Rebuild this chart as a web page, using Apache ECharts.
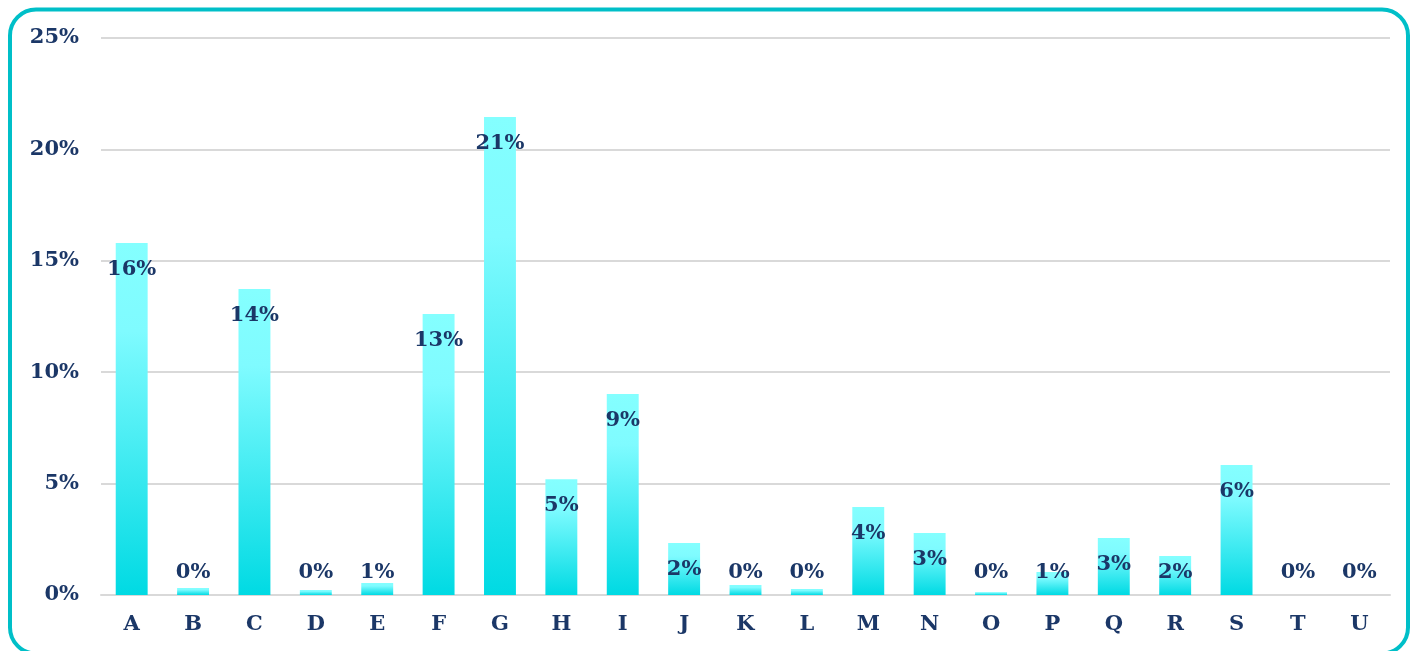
<!DOCTYPE html>
<html>
<head>
<meta charset="utf-8">
<script src="https://cdn.jsdelivr.net/npm/echarts@6/dist/echarts.min.js"></script>
<style>
  html, body { margin: 0; padding: 0; background: #ffffff; }
  #chart { width: 1410px; height: 651px; }
</style>
</head>
<body>
<div id="chart"></div>
<script>
// Share of total by category (percent)
const categories = ['A','B','C','D','E','F','G','H','I','J','K','L','M','N','O','P','Q','R','S','T','U'];
const shares = [15.8, 0.31, 13.73, 0.22, 0.54, 12.61, 21.45, 5.2, 9.02, 2.33, 0.45, 0.27, 3.95, 2.78, 0.13, 1.03, 2.56, 1.75, 5.83, 0, 0];
const yTicks = [0, 5, 10, 15, 20, 25];

const textColor = '#1B3767';
const fontFamily = '"DejaVu Serif", serif';
const fontSize = 21;

const barFill = new echarts.graphic.LinearGradient(0, 0, 0, 1, [
  { offset: 0, color: '#84FFFF' },
  { offset: 0.25, color: '#7FFBFF' },
  { offset: 1, color: '#00DAE3' }
]);

// Short bars keep their label resting near the baseline; taller ones carry it inside the top.
const seriesData = shares.map(v => ({
  value: v,
  label: v < 2.3
    ? { position: 'insideBottom', distance: 12 }
    : { position: 'insideTop', distance: 16 }
}));

const chart = echarts.init(document.getElementById('chart'), null, { renderer: 'canvas' });
chart.setOption({
  animation: false,
  grid: { left: 101, right: 20, top: 38, bottom: 56, containLabel: false },
  graphic: [{
    type: 'rect',
    silent: true,
    shape: { x: 10, y: 9.5, width: 1398, height: 644, r: 26 },
    style: { fill: 'none', stroke: '#00BFC8', lineWidth: 4 }
  }],
  xAxis: {
    type: 'category',
    data: categories,
    axisTick: { show: false },
    axisLine: { lineStyle: { color: '#D9D9D9', width: 2 } },
    axisLabel: { color: textColor, fontFamily, fontWeight: 'bold', fontSize, margin: 19 }
  },
  yAxis: {
    type: 'value',
    min: yTicks[0],
    max: yTicks[yTicks.length - 1],
    interval: 5,
    axisLine: { show: false },
    axisTick: { show: false },
    splitLine: { lineStyle: { color: '#D9D9D9', width: 2 } },
    axisLabel: {
      color: textColor, fontFamily, fontWeight: 'bold', fontSize, margin: 22,
      formatter: v => v + '%'
    }
  },
  series: [{
    type: 'bar',
    data: seriesData,
    barWidth: '52%',
    itemStyle: { color: barFill },
    label: {
      show: true,
      color: textColor,
      fontFamily,
      fontWeight: 'bold',
      fontSize,
      formatter: p => Math.round(p.value) + '%'
    }
  }]
});
</script>
</body>
</html>
